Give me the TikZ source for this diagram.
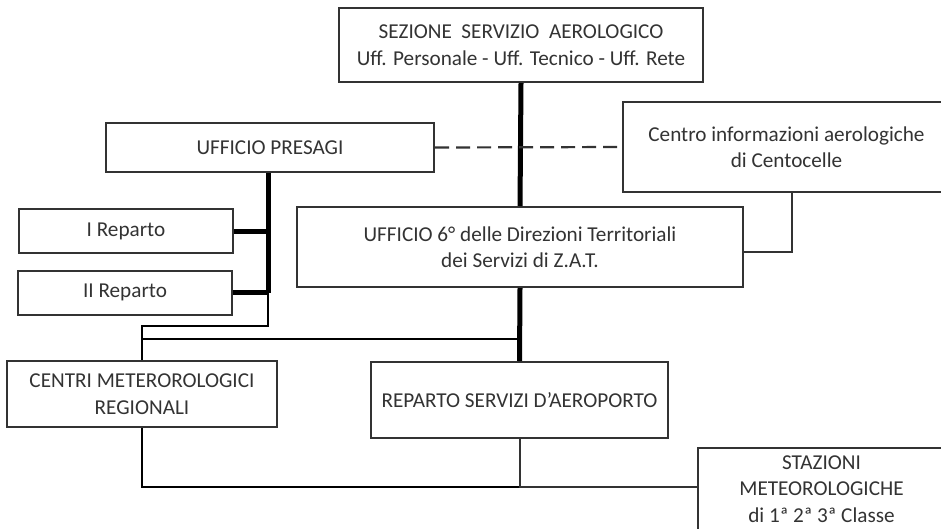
\documentclass[tikz,border=0pt]{standalone}
\usepackage{fontspec}
\setmainfont{Carlito}
\definecolor{txt}{HTML}{333333}
\definecolor{brd}{HTML}{333333}
\begin{document}
\begin{tikzpicture}[x=1pt,y=-1pt,
  box/.style={draw=brd,line width=2pt,fill=white,text=txt,align=center,inner sep=0pt,
    font=\fontsize{21.2}{26.5}\selectfont},
  heavy/.style={line width=5pt,black},
  mid/.style={line width=2pt,draw=brd},
  light/.style={line width=1.3pt,black},
  dashline/.style={line width=2.2pt,draw=brd,dash pattern=on 14pt off 7pt}]
\useasboundingbox (0,0) rectangle (941,528);
\fill[white] (0,0) rectangle (941,528);
% boxes
\node[box,minimum width=364pt,minimum height=74pt] (sez) at (521,45)
  {SEZIONE\ \ SERVIZIO\ \ AEROLOGICO\\Uff. Personale - Uff. Tecnico - Uff. Rete};
\node[box,minimum width=328pt,minimum height=49pt] (pres) at (270,147.5) {UFFICIO PRESAGI};
\node[box,minimum width=327pt,minimum height=90pt] (centro) at (786.5,147)
  {Centro informazioni aerologiche\\di Centocelle};
\node[box,minimum width=446pt,minimum height=80pt] (uff) at (520,247)
  {UFFICIO 6° delle Direzioni Territoriali\\dei Servizi di Z.A.T.};
\node[box,minimum width=214pt,minimum height=44pt] (rep1) at (126,231) {I Reparto};
\node[box,minimum width=214pt,minimum height=44pt] (rep2) at (125,292.5) {II Reparto};
\node[box,minimum width=270pt,minimum height=66pt] (centri) at (142,394)
  {CENTRI METEROROLOGICI\\REGIONALI};
\node[box,minimum width=297pt,minimum height=76pt] (rsa) at (519.5,400) {REPARTO SERVIZI D'AEROPORTO};
\node[box,minimum width=247pt,minimum height=82pt] (staz) at (821.5,489)
  {STAZIONI\\METEOROLOGICHE\\di 1ª 2ª 3ª Classe};
% coordinates
\coordinate (j2) at (268,292.5);
\coordinate (k) at (521,339);
\coordinate (m) at (519,487);
% connectors
\draw[heavy] (sez.south) -- (uff.north);
\draw[dashline] (pres.east) -- (centro.west);
\draw[mid] ([xshift=170pt]centro.south west) |- ([yshift=-5pt]uff.east);
\draw[heavy] ([xshift=-2pt]pres.south) -- (j2);
\draw[heavy] (rep1.east) -- (rep1.east -| j2);
\draw[heavy] (rep2.east) -- (j2);
\draw[light] (j2) -- ++(0,33.5) -| (centri.north);
\draw[light] (k) -- (k -| centri.north);
\draw[heavy] (uff.south) -- (rsa.north);
\draw[light] (centri.south) |- (m);
\draw[mid] (rsa.south) |- ([yshift=2pt]staz.west);
\end{tikzpicture}
\end{document}
